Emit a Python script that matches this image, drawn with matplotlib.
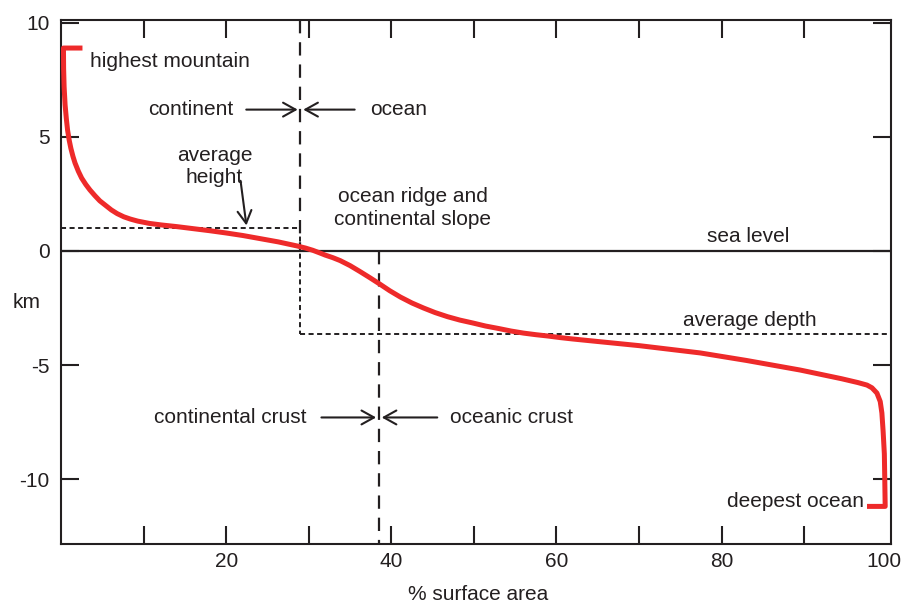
import numpy as np
import matplotlib
matplotlib.use("Agg")
import matplotlib.pyplot as plt

plt.rcParams['font.family'] = ['Liberation Sans', 'DejaVu Sans']

# hypsometric curve (% surface area, km)
area = [2.3, 0.3, 0.32, 0.38, 0.5, 0.65, 0.8, 1.0, 1.2, 1.45, 1.7, 2.1, 2.5, 3.0,
        3.5, 4.1, 4.7, 5.4, 6.1, 6.8, 7.6, 8.4, 9.3, 10.7, 12.2, 14, 16, 18,
        20, 22, 24, 26.3, 28.6, 29.6, 30.5, 31.3, 32, 32.9, 33.8, 35, 36.2, 37.4,
        38.6, 39.8, 41.1, 42.5, 43.9, 45.3, 46.8, 48.3, 49.9, 51.4, 53, 54.5,
        56, 57.5, 59, 60.5, 62, 65.3, 70, 77.4, 83, 89.5, 94.5, 96.5,
        97.6, 98.2, 98.8, 99.2, 99.4, 99.55, 99.7, 99.75, 99.8, 97.9]
height = [8.9, 8.9, 8.0, 7.2, 6.4, 5.8, 5.3, 4.85, 4.5, 4.15, 3.86, 3.5, 3.2, 2.92,
          2.68, 2.43, 2.2, 2.0, 1.8, 1.64, 1.5, 1.4, 1.31, 1.21, 1.14, 1.07, 0.98, 0.89,
          0.79, 0.68, 0.55, 0.4, 0.22, 0.13, 0.03, -0.08, -0.18, -0.29, -0.42, -0.64, -0.9, -1.17,
          -1.45, -1.74, -2.02, -2.28, -2.5, -2.7, -2.88, -3.03, -3.16, -3.29, -3.4, -3.51,
          -3.6, -3.67, -3.73, -3.8, -3.86, -3.98, -4.15, -4.47, -4.8, -5.22, -5.6, -5.77,
          -5.88, -6.0, -6.23, -6.6, -7.1, -7.9, -8.9, -10.0, -11.2, -11.2]

avg_height = 1.0
avg_depth = -3.65
continent_edge = 29.0
crust_edge = 38.5

fig = plt.figure(figsize=(9.06, 6.04), dpi=100)
ax = fig.add_axes([0.0673, 0.0993, 0.9161, 0.8676])

ax.plot(area, height, color='#ee2a2a', lw=3.6, solid_joinstyle='round', zorder=4)

# sea level
ax.axhline(0, color='#231f20', lw=1.6, zorder=3)
# average height / average depth
dot = dict(color='#231f20', lw=1.4, dashes=(2.6, 1.8))
ax.plot([0, continent_edge], [avg_height, avg_height], **dot)
ax.plot([continent_edge, continent_edge], [avg_height, avg_depth], **dot)
ax.plot([continent_edge, 100.5], [avg_depth, avg_depth], **dot)
# boundaries
dash = dict(color='#231f20', lw=1.6, dashes=(6, 4))
ax.plot([continent_edge, continent_edge], [10.13, 0], **dash)
ax.plot([crust_edge, crust_edge], [0, -12.85], **dash)

arr = dict(arrowstyle='->,head_length=0.9,head_width=0.5', color='#231f20', lw=1.5)
ax.annotate('', xy=(continent_edge, 6.2), xytext=(22.1, 6.2), arrowprops=arr)
ax.annotate('', xy=(continent_edge, 6.2), xytext=(35.9, 6.2), arrowprops=arr)
ax.annotate('', xy=(crust_edge, -7.3), xytext=(31.2, -7.3), arrowprops=arr)
ax.annotate('', xy=(crust_edge, -7.3), xytext=(45.9, -7.3), arrowprops=arr)
ax.annotate('', xy=(22.5, avg_height), xytext=(21.7, 3.2), arrowprops=arr)

fs = 15
tc = '#231f20'
ax.text(3.5, 8.3, 'highest mountain', fontsize=fs, color=tc, va='center')
ax.text(20.9, 6.2, 'continent', fontsize=fs, color=tc, va='center', ha='right')
ax.text(37.4, 6.2, 'ocean', fontsize=fs, color=tc, va='center')
ax.text(18.6, 3.7, 'average\nheight', fontsize=fs, color=tc, va='center', ha='center',
        linespacing=1.2)
ax.text(42.6, 1.9, 'ocean ridge and\ncontinental slope', fontsize=fs, color=tc,
        va='center', ha='center', linespacing=1.25)
ax.text(83.2, 0.65, 'sea level', fontsize=fs, color=tc, va='center', ha='center')
ax.text(83.4, -3.05, 'average depth', fontsize=fs, color=tc, va='center', ha='center')
ax.text(29.7, -7.3, 'continental crust', fontsize=fs, color=tc, va='center', ha='right')
ax.text(47.1, -7.3, 'oceanic crust', fontsize=fs, color=tc, va='center')
ax.text(97.2, -11.0, 'deepest ocean', fontsize=fs, color=tc, va='center', ha='right')

ax.set_xlim(0, 100.5)
ax.set_ylim(-12.85, 10.13)
ax.set_xticks(np.arange(10, 100, 10))
ax.set_xticklabels(['', '20', '', '40', '', '60', '', '80', ''])
ax.set_yticks([-10, -5, 0, 5, 10])
ax.set_yticklabels(['-10', '-5', '0', '5', '10'])
ax.tick_params(direction='in', length=13, width=1.5, labelsize=fs, colors=tc,
               top=True, right=True, pad=6)
ax.tick_params(axis='y', pad=8)
for s in ax.spines.values():
    s.set_linewidth(1.5)
    s.set_color(tc)

# label for 100 sits at the right spine, no tick there
ax.annotate('100', xy=(99.7, 0), xycoords=('data', 'axes fraction'),
            xytext=(0, -6), textcoords='offset points',
            fontsize=fs, color=tc, ha='center', va='top')

fig.text(478 / 906, 1 - 595 / 604, '% surface area', fontsize=fs, color=tc,
         ha='center', va='center')
fig.text(27 / 906, 1 - 303 / 604, 'km', fontsize=fs, color=tc, ha='center', va='center')

fig.savefig('out.png', dpi=100)
